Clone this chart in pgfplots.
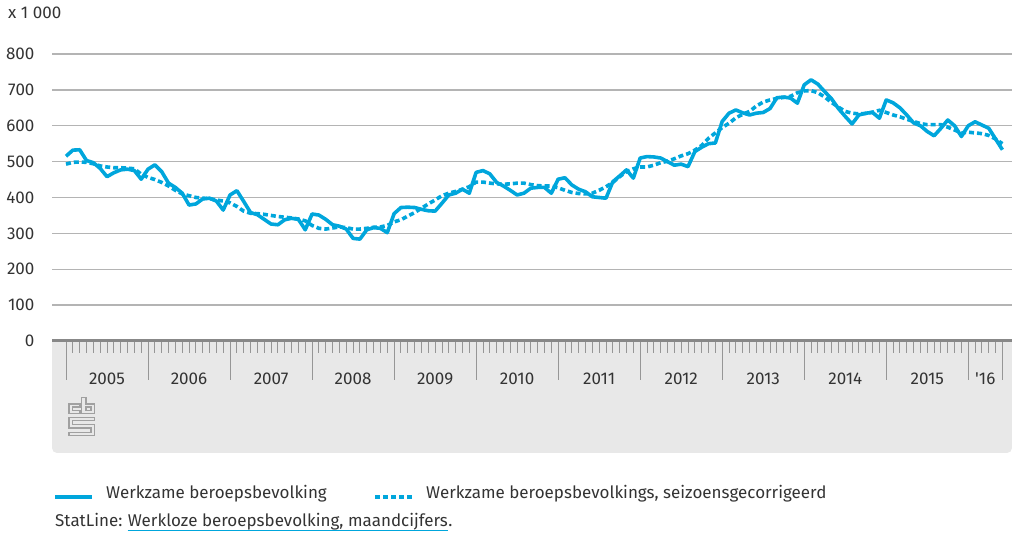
\documentclass[border=0pt]{standalone}
\usepackage{fontspec}
\setmainfont{Fira Sans}
\usepackage{pgfplots}
\pgfplotsset{compat=1.18}
\usepackage{pgfplotstable}
\definecolor{cbsblue}{RGB}{0,166,220}
\definecolor{txt}{RGB}{51,51,51}
\definecolor{gridc}{RGB}{180,180,180}
\definecolor{boxc}{RGB}{232,232,232}
\definecolor{axc}{RGB}{136,136,136}
\definecolor{tickc}{RGB}{150,150,150}
\definecolor{logoc}{RGB}{160,160,160}

\pgfplotstableread{
m a b
0 515 493
1 532 498
2 533 499
3 503 498
4 497 494
5 481 488
6 458 485
7 469 483
8 477 483
9 479 482
10 475 480
11 451 465
12 479 456
13 491 450
14 472 442
15 440 432
16 428 420
17 412 410
18 379 405
19 382 400
20 396 398
21 398 397
22 390 393
23 365 390
24 407 385
25 419 375
26 389 362
27 358 356
28 352 355
29 339 353
30 326 350
31 324 347
32 338 345
33 342 343
34 339 340
35 310 335
36 354 322
37 351 314
38 339 312
39 324 315
40 320 318
41 312 316
42 286 312
43 284 312
44 310 314
45 316 317
46 314 318
47 302 322
48 355 332
49 372 338
50 373 348
51 372 358
52 367 370
53 363 382
54 362 393
55 384 405
56 407 412
57 412 417
58 423 423
59 412 430
60 470 443
61 475 443
62 466 440
63 442 438
64 432 437
65 420 438
66 407 440
67 412 440
68 426 436
69 428 433
70 428 432
71 412 432
72 451 427
73 455 420
74 435 414
75 423 411
76 416 410
77 402 412
78 400 420
79 398 430
80 444 442
81 460 458
82 477 472
83 454 480
84 510 485
85 514 485
86 513 490
87 510 497
88 500 501
89 490 508
90 493 516
91 486 522
92 528 532
93 540 545
94 550 565
95 552 580
96 612 595
97 635 607
98 644 622
99 636 632
100 630 640
101 635 655
102 637 666
103 648 672
104 678 676
105 680 679
106 677 682
107 663 692
108 714 697
109 728 698
110 716 692
111 695 680
112 675 665
113 648 652
114 626 640
115 605 635
116 630 633
117 635 634
118 637 638
119 621 643
120 672 637
121 664 630
122 650 625
123 630 618
124 608 612
125 600 606
126 584 603
127 572 603
128 593 603
129 616 596
130 600 588
131 570 580
132 600 582
133 611 580
134 602 578
135 593 573
136 563 563
137 533 550
}\data

\begin{document}
\begin{tikzpicture}[font=\fontsize{17}{20}\selectfont, text=txt]
\path[use as bounding box] (0pt,0pt) rectangle (1012pt,534pt);
% grey box below axis
\fill[boxc, rounded corners=5pt] (52pt,81pt) rectangle (1012pt,170pt);
\fill[boxc] (52pt,150pt) rectangle (1012pt,193pt);

\begin{axis}[
  at={(52pt,193pt)}, anchor=south west,
  width=960pt, height=287pt, scale only axis,
  xmin=-2.05, xmax=138.4, ymin=0, ymax=800,
  axis line style={draw=none},
  ytick={0,100,...,800},
  ymajorgrids,
  grid style={gridc, line width=1.3pt},
  ytick style={draw=none},
  yticklabel style={text=txt, font=\fontsize{17}{20}\selectfont, /pgf/number format/assume math mode=true, xshift=25pt},
  xtick={0,12,...,132,137},
  minor xtick={1,...,136},
  xticklabels={},
  xtick style={tickc, line width=0.9pt},
  minor tick style={tickc, line width=0.8pt},
  major tick length=39pt,
  minor tick length=12pt,
  tick align=outside,
  xtick pos=bottom,
  ytick pos=left,
  clip=false,
]
\addplot[cbsblue, line width=3.6pt, line join=round] table[x=m, y=a] {\data};
\addplot[cbsblue, line width=3.6pt, dash pattern=on 5pt off 3pt] table[x=m, y=b] {\data};
\end{axis}

% thick base line
\draw[axc, line width=3pt] (52pt,193pt) -- (1012pt,193pt);

% year labels
\foreach \yr [count=\i from 0] in {2005,2006,2007,2008,2009,2010,2011,2012,2013,2014,2015} {
  \node[anchor=base, inner sep=0pt] at ({(107+82.03*\i)*1pt},149pt) {\yr};
}
\node[anchor=base, inner sep=0pt] at (985.3pt,149pt) {\textquotesingle 16};

% x 1 000
\node[anchor=base west, inner sep=0pt] at (8pt,515pt) {x 1 000};

% cbs logo
\begin{scope}[shift={(0pt,204pt)}, x=0.3333pt, y=-0.3333pt, logoc, line width=1.1pt]
\draw (240,222)--(207,222)--(207,250)--(240,250)--(240,241)--(217,241)--(217,231)--(240,231)--cycle;
\draw (245,203)--(258,203)--(258,222)--(283,222)--(283,250)--(245,250)--cycle;
\draw (258,231)--(273,231)--(273,241)--(258,241)--cycle;
\draw (207,262)--(283,262)--(283,272)--(217,272)--(217,284)--(283,284)--(283,317)--(207,317)--(207,307)--(273,307)--(273,294)--(207,294)--cycle;
\end{scope}

% legend
\draw[cbsblue, line width=3.6pt] (55pt,37pt) -- (92pt,37pt);
\node[anchor=base west, inner sep=0pt] at (106pt,35.5pt) {Werkzame beroepsbevolking};
\draw[cbsblue, line width=3.6pt, dash pattern=on 5pt off 3pt] (375pt,37pt) -- (412pt,37pt);
\node[anchor=base west, inner sep=0pt] at (426pt,35.5pt) {Werkzame beroepsbevolkings, seizoensgecorrigeerd};

% source
\node[anchor=base west, inner sep=0pt] (s1) at (55pt,7pt) {StatLine:};
\node[anchor=base west, inner sep=0pt] (s2) at ([xshift=5pt]s1.base east) {Werkloze beroepsbevolking, maandcijfers};
\node[anchor=base west, inner sep=0pt] at (s2.base east) {.};
\draw[cbsblue, line width=0.8pt] ([yshift=-3pt]s2.base west) -- ([yshift=-3pt]s2.base east);
\end{tikzpicture}
\end{document}
